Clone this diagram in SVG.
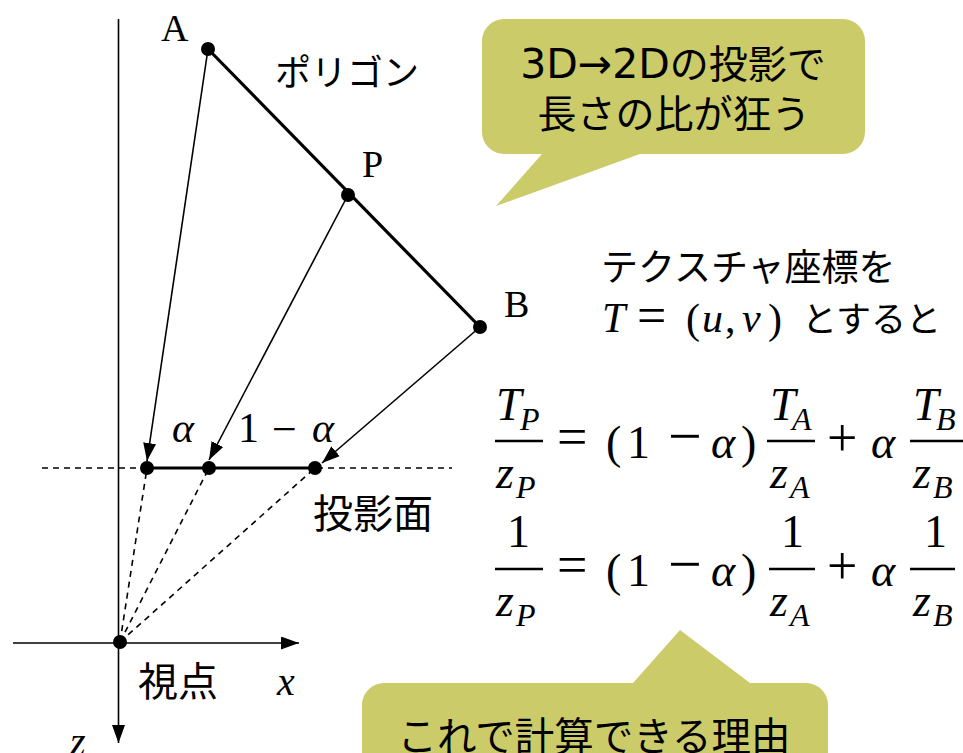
<svg xmlns="http://www.w3.org/2000/svg" width="963" height="753" viewBox="0 0 963 753">
<style>
.jp{font-family:"Noto Sans CJK JP","Noto Sans",sans-serif;fill:#000}
.lat{font-family:"DejaVu Sans","Noto Sans",sans-serif}
.m{font-family:"Liberation Serif","DejaVu Serif",serif;fill:#000}
.mi{font-family:"Liberation Serif","DejaVu Serif",serif;font-style:italic;fill:#000}
.thin{stroke:#000;stroke-width:1.6;fill:none}
.dash{stroke:#000;stroke-width:1.6;stroke-dasharray:6 5;fill:none}
.thick{stroke:#000;stroke-width:3.2;fill:none}
.bar{stroke:#000;stroke-width:2.5}
.callout{fill:#CBCB69}
</style>
<defs>
<marker id="ah" viewBox="0 0 18 13" refX="18" refY="6.5" markerWidth="18" markerHeight="13" markerUnits="userSpaceOnUse" orient="auto">
<path d="M0,0 L18,6.5 L0,13 Z" fill="#000"/>
</marker>
</defs>
<g id="callout-top">
<path class="callout" d="M504,19 H843 A22,22 0 0 1 865,41 V132 A22,22 0 0 1 843,154 H640 L496,206 L542,154 H504 A22,22 0 0 1 482,132 V41 A22,22 0 0 1 504,19 Z"/>
<text class="jp" x="673" y="78" font-size="39" text-anchor="middle"><tspan class="lat" font-size="41">3D→2D</tspan>の投影で</text>
<text class="jp" x="674" y="128" font-size="39" text-anchor="middle">長さの比が狂う</text>
</g>
<g id="callout-bottom">
<path class="callout" d="M384,683 H633 L680,630 L750,683 H806 A22,22 0 0 1 828,705 V800 H362 V705 A22,22 0 0 1 384,683 Z"/>
<text class="jp" x="594" y="751" font-size="39.5" text-anchor="middle">これで計算できる理由</text>
</g>
<g id="axes">
<line class="thin" x1="118.5" y1="19" x2="118.5" y2="743" marker-end="url(#ah)"/>
<line class="thin" x1="13" y1="643" x2="299" y2="643" marker-end="url(#ah)"/>
<text class="mi" x="277" y="695" font-size="40">x</text>
<text class="mi" x="70" y="755" font-size="40">z</text>
</g>
<g id="connectors">
<line class="thick" x1="208" y1="49" x2="480" y2="327"/>
<line class="dash" x1="42" y1="468" x2="452" y2="468"/>
<line class="thick" x1="147" y1="468" x2="315" y2="468"/>
<line class="thin" x1="208" y1="49" x2="147" y2="461" marker-end="url(#ah)"/>
<line class="thin" x1="348" y1="195" x2="209" y2="460" marker-end="url(#ah)"/>
<line class="thin" x1="480" y1="327" x2="322" y2="463" marker-end="url(#ah)"/>
<line class="dash" x1="120" y1="642" x2="147" y2="468"/>
<line class="dash" x1="120" y1="642" x2="209" y2="468"/>
<line class="dash" x1="120" y1="642" x2="315" y2="468"/>
</g>
<g id="node-A">
<circle cx="208" cy="49" r="7"/>
<text class="m" x="161" y="41" font-size="38">A</text>
</g>
<g id="node-P">
<circle cx="348" cy="195" r="7"/>
<text class="m" x="362" y="177" font-size="38">P</text>
</g>
<g id="node-B">
<circle cx="480" cy="327" r="7"/>
<text class="m" x="504" y="317" font-size="38">B</text>
</g>
<g id="projections">
<circle cx="147" cy="468" r="7"/>
<circle cx="209" cy="468" r="7"/>
<circle cx="315" cy="468" r="7"/>
<text class="mi" x="172" y="442" font-size="42">α</text>
<text class="m" x="238" y="442" font-size="42">1</text>
<text class="m" x="272" y="444" font-size="44">−</text>
<text class="mi" x="312" y="442" font-size="42">α</text>
</g>
<g id="viewpoint">
<circle cx="120" cy="642" r="7"/>
<text class="jp" x="138" y="696" font-size="40">視点</text>
</g>
<g id="labels">
<text class="jp" x="275" y="86" font-size="36">ポリゴン</text>
<text class="jp" x="313" y="528" font-size="40">投影面</text>
<text class="jp" x="601" y="281" font-size="37">テクスチャ座標を</text>
<text class="mi" x="602" y="332" font-size="42">T</text>
<text class="m" x="637" y="333" font-size="52">=</text>
<text class="m" x="686" y="333" font-size="42">(</text>
<text class="mi" x="702" y="332" font-size="42">u</text>
<text class="m" x="725" y="332" font-size="42">,</text>
<text class="mi" x="742" y="332" font-size="42">v</text>
<text class="m" x="768" y="333" font-size="42">)</text>
<text class="jp" x="802" y="332" font-size="35">とすると</text>
</g>
<g id="equation1">
<text class="mi" x="496" y="420" font-size="46">T</text>
<text class="mi" x="520" y="430" font-size="32">P</text>
<line class="bar" x1="495" y1="441" x2="543" y2="441"/>
<text class="mi" x="496" y="488" font-size="46">z</text>
<text class="mi" x="516" y="498" font-size="32">P</text>
<text class="m" x="557" y="455" font-size="54">=</text>
<text class="m" x="606" y="458" font-size="46">(</text>
<text class="m" x="627" y="458" font-size="46">1</text>
<text class="m" x="668" y="456" font-size="60">−</text>
<text class="mi" x="711" y="458" font-size="46">α</text>
<text class="m" x="741" y="458" font-size="46">)</text>
<text class="mi" x="770" y="420" font-size="46">T</text>
<text class="mi" x="792" y="430" font-size="32">A</text>
<line class="bar" x1="767" y1="441" x2="815" y2="441"/>
<text class="mi" x="770" y="488" font-size="46">z</text>
<text class="mi" x="790" y="498" font-size="32">A</text>
<text class="m" x="827" y="456" font-size="54">+</text>
<text class="mi" x="871" y="458" font-size="46">α</text>
<text class="mi" x="913" y="420" font-size="46">T</text>
<text class="mi" x="936" y="430" font-size="32">B</text>
<line class="bar" x1="910" y1="441" x2="963" y2="441"/>
<text class="mi" x="913" y="488" font-size="46">z</text>
<text class="mi" x="933" y="498" font-size="32">B</text>
</g>
<g id="equation2">
<text class="m" x="507" y="547" font-size="46">1</text>
<line class="bar" x1="495" y1="569" x2="543" y2="569"/>
<text class="mi" x="496" y="616" font-size="46">z</text>
<text class="mi" x="516" y="626" font-size="32">P</text>
<text class="m" x="557" y="583" font-size="54">=</text>
<text class="m" x="606" y="586" font-size="46">(</text>
<text class="m" x="627" y="586" font-size="46">1</text>
<text class="m" x="668" y="584" font-size="60">−</text>
<text class="mi" x="711" y="586" font-size="46">α</text>
<text class="m" x="741" y="586" font-size="46">)</text>
<text class="m" x="781" y="547" font-size="46">1</text>
<line class="bar" x1="769" y1="569" x2="815" y2="569"/>
<text class="mi" x="770" y="616" font-size="46">z</text>
<text class="mi" x="790" y="626" font-size="32">A</text>
<text class="m" x="827" y="584" font-size="54">+</text>
<text class="mi" x="871" y="586" font-size="46">α</text>
<text class="m" x="924" y="547" font-size="46">1</text>
<line class="bar" x1="910" y1="569" x2="955" y2="569"/>
<text class="mi" x="913" y="616" font-size="46">z</text>
<text class="mi" x="933" y="626" font-size="32">B</text>
</g>
</svg>
